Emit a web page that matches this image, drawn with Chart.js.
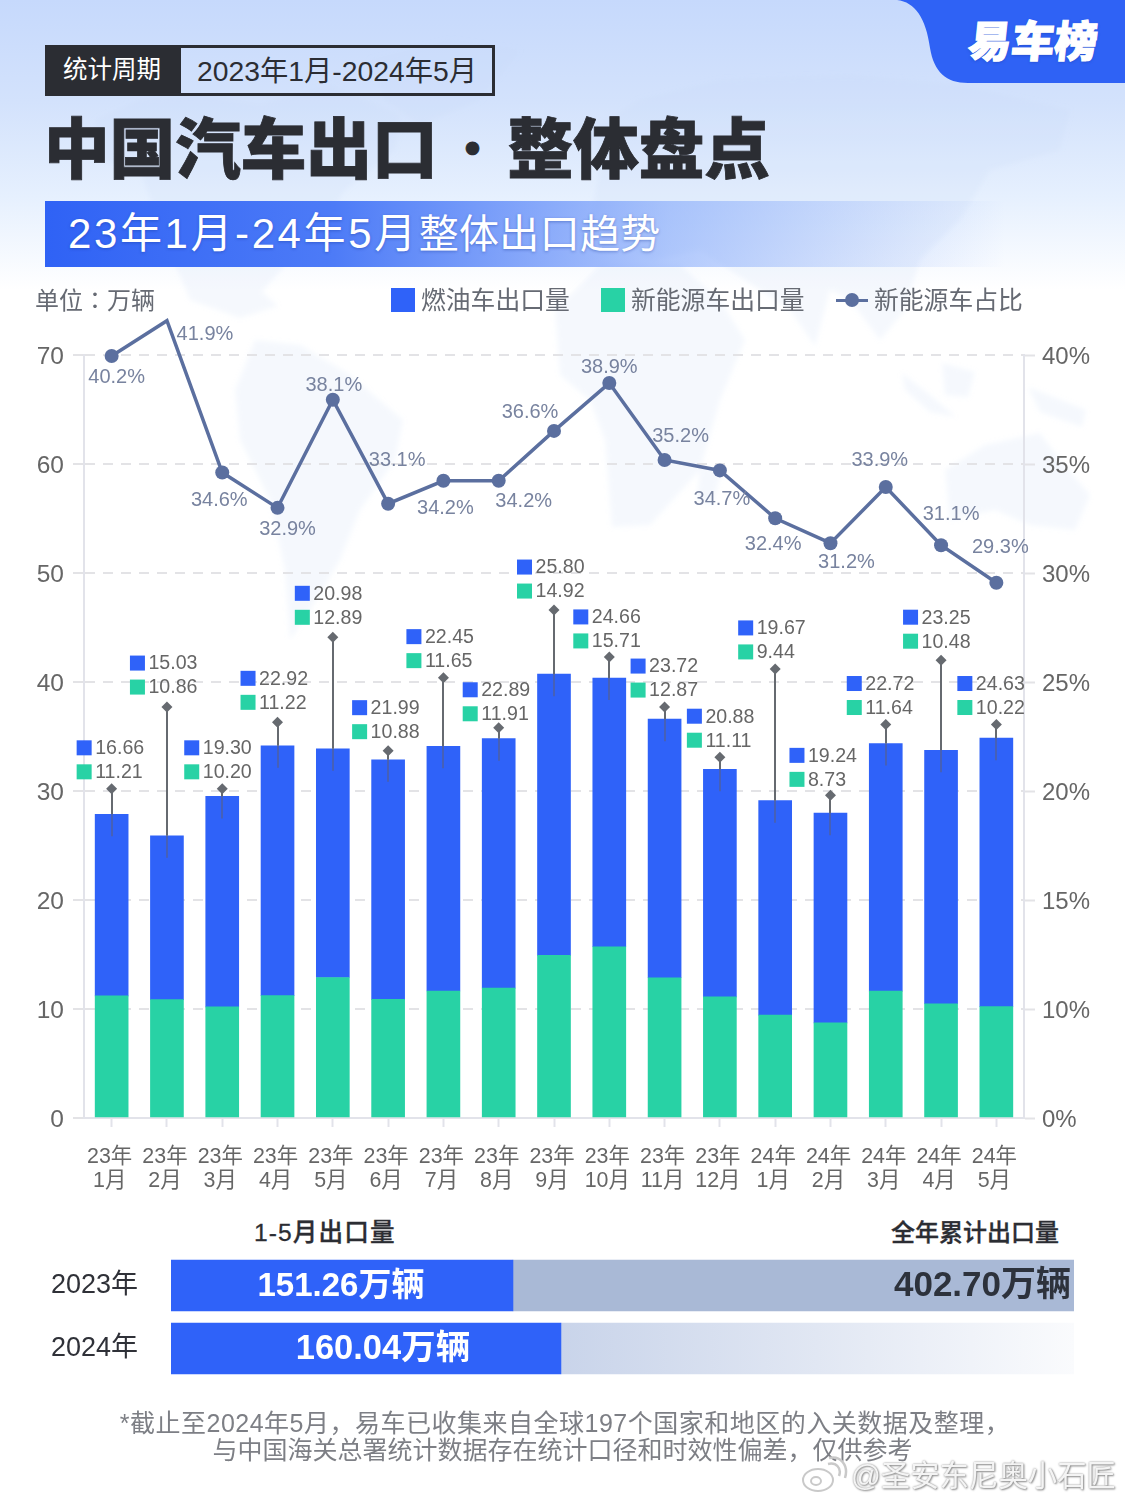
<!DOCTYPE html>
<html lang="zh">
<head>
<meta charset="utf-8">
<script src="https://cdn.jsdelivr.net/npm/chart.js@4/dist/chart.umd.min.js"></script>
<style>
  html, body { margin: 0; padding: 0; }
  body { position: relative; width: 1125px; height: 1500px; overflow: hidden; background: #fff;
    font-family: "Liberation Sans", "Noto Sans CJK SC", sans-serif; }
  .bgfade { position: absolute; left: 0; top: 0; width: 1125px; height: 290px;
    background: linear-gradient(180deg, #c6d9fc 0%, #d3e2fc 35%, #e6f0fe 68%, #ffffff 100%); }
  #map, #tab { position: absolute; left: 0; top: 0; }
  canvas { position: absolute; left: 0; }
  .t { position: absolute; white-space: nowrap; line-height: 1; }
  .swatch { position: absolute; width: 24px; height: 24px; top: 288px; }
</style>
</head>
<body>
<div class="bgfade"></div>
<svg id="map" width="1125" height="640" viewBox="0 0 1125 640">
  <defs><filter id="soft"><feGaussianBlur stdDeviation="2.5"/></filter></defs>
  <g fill="#c4d6f6" fill-opacity="0.17" filter="url(#soft)">
    <path d="M95 120 140 100 200 95 260 105 330 85 400 115 395 150 345 190 320 230 290 260 262 292 278 306 240 318 190 300 165 240 140 170 100 160Z"/>
    <path d="M255 340 300 345 350 375 403 420 395 460 360 510 340 560 310 610 290 640 285 570 270 500 240 440 235 390Z"/>
    <path d="M370 60 450 40 520 50 480 100 420 125 385 100Z"/>
    <path d="M590 130 640 100 720 80 850 75 960 85 1070 110 1060 150 990 170 960 220 920 260 905 310 880 340 850 300 830 290 815 346 790 310 760 290 700 250 650 260 590 220 600 170Z"/>
    <path d="M600 265 680 265 720 300 745 340 720 400 700 470 650 525 612 527 605 440 590 400 560 375 555 310Z"/>
    <path d="M700 467 722 470 712 505 697 500Z"/>
    <path d="M942 363 975 372 968 397 945 395Z"/>
    <path d="M902 373 930 395 956 417 930 412 905 390Z"/>
    <path d="M1028 387 1086 410 1082 427 1040 412Z"/>
    <path d="M945 470 985 445 1040 433 1060 460 1090 495 1075 530 1030 525 995 510 950 520Z"/>
  </g>
</svg>
<svg id="tab" width="1125" height="90" viewBox="0 0 1125 90">
  <path d="M897 0C915 2 926 18 930 48 934 72 946 83 968 83L1125 83 1125 0Z" fill="#2f62f5"/>
</svg>
<div class="t" style="left:969px;top:13px;font:900 43px 'Noto Sans CJK SC';line-height:1.2;color:#fff;transform:skewX(-6deg);-webkit-text-stroke:1.2px #fff;text-shadow:0 1px 3px rgba(20,50,150,.5)">易车榜</div>

<div style="position:absolute;left:45px;top:45px;width:444px;height:45px;border:3px solid #2b2d33"></div>
<div style="position:absolute;left:45px;top:45px;width:136px;height:51px;background:#2b2d33"></div>
<div class="t" style="left:63px;top:58px;font-size:24.5px;color:#fff">统计周期</div>
<div class="t" style="left:197px;top:57px;font-size:28.3px;color:#2b2d33">2023年1月-2024年5月</div>

<div class="t" style="left:44px;top:112px;font:900 65.6px 'Noto Sans CJK SC';line-height:1;color:#2b2d33;-webkit-text-stroke:.8px #2b2d33">中国汽车出口<span style="display:inline-block;width:70px;text-align:center;font-size:46px;vertical-align:8px">·</span>整体盘点</div>

<div style="position:absolute;left:45px;top:201px;width:960px;height:66px;background:linear-gradient(90deg,#2f62f5 0%,#4d7bf7 30%,rgba(120,160,250,.55) 65%,rgba(190,210,250,0) 100%)"></div>
<div class="t" style="left:68px;top:213px;font-size:40px;color:#fff;letter-spacing:.3px;text-shadow:0 1px 3px rgba(20,50,150,.4)"><span style="font-size:42px;letter-spacing:2.6px">23年1月-24年5月</span>整体出口趋势</div>

<canvas id="main" width="1125" height="1210" style="top:0"></canvas>

<div class="t" lang="zh-Hant" style="left:35px;top:287px;font:24px 'Noto Sans CJK TC';line-height:1;color:#666a73">单位：万辆</div>
<div class="swatch" style="left:391px;background:#2f62f9"></div>
<div class="t" style="left:421px;top:289px;font-size:24.8px;color:#666a73">燃油车出口量</div>
<div class="swatch" style="left:601px;background:#28d2a5"></div>
<div class="t" style="left:631px;top:289px;font-size:24.8px;color:#666a73">新能源车出口量</div>
<div style="position:absolute;left:836px;top:299px;width:32px;height:3px;background:#5b6f9f"></div>
<div style="position:absolute;left:845px;top:293px;width:14px;height:14px;border-radius:50%;background:#5b6f9f"></div>
<div class="t" style="left:874px;top:289px;font-size:24.8px;color:#666a73">新能源车占比</div>

<div class="t" style="left:254px;top:1221px;font-size:24.6px;font-weight:500;letter-spacing:1.1px;color:#2b2d33;-webkit-text-stroke:.3px #2b2d33">1-5月出口量</div>
<div class="t" style="left:891px;top:1221px;font-size:24px;font-weight:500;color:#2b2d33;-webkit-text-stroke:.3px #2b2d33">全年累计出口量</div>

<canvas id="ytd" width="1125" height="226" style="top:1204px"></canvas>

<div class="t" style="left:0;width:1130px;text-align:center;top:1411px;font-size:25px;letter-spacing:.5px;color:#7d7f85">*截止至2024年5月，易车已收集来自全球197个国家和地区的入关数据及整理，</div>
<div class="t" style="left:0;width:1125px;text-align:center;top:1438px;font-size:25px;color:#7d7f85">与中国海关总署统计数据存在统计口径和时效性偏差，仅供参考</div>

<svg style="position:absolute;left:800px;top:1455px" width="50" height="40" viewBox="0 0 50 40">
  <ellipse cx="18" cy="25" rx="15" ry="11" fill="#fff" fill-opacity=".7" stroke="#c9c9c9" stroke-width="2"/>
  <ellipse cx="16" cy="26" rx="5" ry="4" fill="none" stroke="#c9c9c9" stroke-width="2"/>
  <path d="M28 9C36 7 42 13 39 21M29 3C40 0 49 10 45 23" fill="none" stroke="#c9c9c9" stroke-width="2.5"/>
</svg>
<div class="t" style="left:851px;top:1461px;font-size:29.4px;color:#f4f4f4;text-shadow:0 0 2px #8f8f8f,1px 1px 2px #8f8f8f">@圣安东尼奥小石匠</div>

<script>
const months = [
  ['23年','1月'],['23年','2月'],['23年','3月'],['23年','4月'],['23年','5月'],['23年','6月'],
  ['23年','7月'],['23年','8月'],['23年','9月'],['23年','10月'],['23年','11月'],['23年','12月'],
  ['24年','1月'],['24年','2月'],['24年','3月'],['24年','4月'],['24年','5月']
];
const fuelExports = [16.66,15.03,19.30,22.92,20.98,21.99,22.45,22.89,25.80,24.66,23.72,20.88,19.67,19.24,22.72,23.25,24.63];
const nevExports = [11.21,10.86,10.20,11.22,12.89,10.88,11.65,11.91,14.92,15.71,12.87,11.11,9.44,8.73,11.64,10.48,10.22];
const nevShare = [40.2,41.9,34.6,32.9,38.1,33.1,34.2,34.2,36.6,38.9,35.2,34.7,32.4,31.2,33.9,31.1,29.3];
// top of each leader line
const leaderTops = [30.2,37.7,30.2,36.3,44.1,33.7,40.4,35.8,46.6,42.3,37.7,33.1,41.2,29.6,36.1,42.0,36.1];
const leftTicks = ['0','10','20','30','40','50','60','70'];
const rightTicks = ['0%','10%','15%','20%','25%','30%','35%','40%'];

const ytdYears = ['2023年','2024年'];
// bar lengths as drawn, on a 0-402.70 track (the picture draws 2024 longer than its label)
const ytdLengths = [152.5,173.9];
const ytdRest = [250.2,228.8];
const ytdTexts = ['151.26万辆','160.04万辆'];
const fullYearText = '402.70万辆';

// share label shift from its point, in px
const shareLabelShift = [[5,20],[38,12],[-3,26],[10,20],[1,-16],[9,-45],[2,26],[25,19],[-24,-20],[0,-17],[16,-25],[2,28],[-2,25],[16,18],[-6,-28],[10,-32],[4,-37]];
// value rows: left edge from the bar centre, lift of the first row above the leader top, in px
const rowLeft = [-35,-37,-38,-37,-38,-36,-37,-36,-37,-36,-34,-33,-37,-41,-39,-38,-39];
const rowLift = [41,44,41,44,44,43,41,38,43,40,41,41,41,40,41,43,41];

const FONT = '"Liberation Sans","Noto Sans CJK SC",sans-serif';
const BLUE = '#2f62f9', GREEN = '#28d2a5', SLATE = '#5b6f9f';
const GRID = '#e3e3e6', AXIS = '#e2e3ea', TEXT = '#666666';

// leader lines with the two value rows above them
const leaderPlugin = {
  id: 'leaders',
  afterDatasetsDraw(chart) {
    const { ctx, scales: { x, y } } = chart;
    ctx.save();
    leaderTops.forEach((top, i) => {
      const cx = x.getPixelForValue(i);
      const px = Math.round(cx);
      const topY = y.getPixelForValue(top);
      const barY = y.getPixelForValue(fuelExports[i] + nevExports[i]);
      ctx.lineWidth = 2;
      ctx.strokeStyle = '#666a70';
      ctx.beginPath(); ctx.moveTo(px, topY); ctx.lineTo(px, barY); ctx.stroke();
      ctx.strokeStyle = 'rgba(90,95,130,.55)';
      ctx.beginPath(); ctx.moveTo(px, barY); ctx.lineTo(px, barY + 22); ctx.stroke();

      const left = cx + rowLeft[i];
      const row1 = topY - rowLift[i];
      const row2 = row1 + 24;
      ctx.font = '19.6px ' + FONT;
      ctx.textBaseline = 'middle';
      ctx.textAlign = 'left';
      ctx.fillStyle = BLUE; ctx.fillRect(left, row1 - 7.5, 15, 15);
      ctx.fillStyle = GREEN; ctx.fillRect(left, row2 - 7.5, 15, 15);
      ctx.fillStyle = TEXT;
      ctx.fillText(fuelExports[i].toFixed(2), left + 18.5, row1 + 1);
      ctx.fillText(nevExports[i].toFixed(2), left + 18.5, row2 + 1);
    });
    ctx.restore();
  }
};

const shareLabelPlugin = {
  id: 'shareLabels',
  afterDatasetsDraw(chart) {
    const { ctx, scales: { x, share } } = chart;
    ctx.save();
    ctx.font = '20px ' + FONT;
    ctx.fillStyle = '#78839f';
    ctx.textAlign = 'center';
    ctx.textBaseline = 'middle';
    nevShare.forEach((v, i) => {
      const [dx, dy] = shareLabelShift[i];
      ctx.fillText(v.toFixed(1) + '%', x.getPixelForValue(i) + dx, share.getPixelForValue(v) + dy + 1.5);
    });
    ctx.restore();
  }
};

new Chart(document.getElementById('main'), {
  type: 'bar',
  data: {
    labels: months,
    datasets: [
      { label: '新能源车占比', type: 'line', data: nevShare, yAxisID: 'share', clip: false, order: 0,
        borderColor: SLATE, borderWidth: 3.5, tension: 0,
        pointRadius: 7, pointBackgroundColor: SLATE, pointBorderWidth: 0 },
      { label: 'leader', type: 'line', data: leaderTops, yAxisID: 'y2', showLine: false, order: 1,
        pointStyle: 'rectRot', pointRadius: 5.5, pointBackgroundColor: '#666a70', pointBorderWidth: 0 },
      { label: '新能源车出口量', data: nevExports, backgroundColor: GREEN, barThickness: 33, stack: 's', order: 2 },
      { label: '燃油车出口量', data: fuelExports, backgroundColor: BLUE, barThickness: 33, stack: 's', order: 2 }
    ]
  },
  plugins: [leaderPlugin, shareLabelPlugin],
  options: {
    responsive: false,
    animation: false,
    layout: { padding: { top: 355 } },
    plugins: { legend: { display: false }, tooltip: { enabled: false } },
    scales: {
      x: {
        stacked: true,
        afterFit: s => { s.height = 92; },
        border: { color: AXIS, width: 2 },
        grid: { drawOnChartArea: false, offset: false, tickLength: 9, tickColor: AXIS, tickWidth: 2 },
        ticks: { color: TEXT, padding: 18, labelOffset: -2, maxRotation: 0, autoSkip: false,
          font: { family: FONT, size: 21.4, lineHeight: 1.13 } }
      },
      y: {
        stacked: true, position: 'left', min: 0, max: 70,
        afterFit: s => { s.width = 84; },
        border: { color: AXIS, width: 2, dash: [10, 8] },
        grid: { color: GRID, lineWidth: 2, tickLength: 11, tickColor: GRID, tickWidth: 2,
          tickBorderDash: [10, 8] },
        ticks: { stepSize: 10, color: TEXT, padding: 9, labelOffset: 2, font: { family: FONT, size: 24.5 },
          callback: (v, i) => leftTicks[i] }
      },
      y2: {
        position: 'right', min: 0, max: 70,
        afterFit: s => { s.width = 101; },
        border: { color: AXIS, width: 2 },
        grid: { drawOnChartArea: false, tickLength: 11, tickColor: GRID, tickWidth: 2, tickBorderDash: [10, 8] },
        ticks: { stepSize: 10, color: TEXT, padding: 7, labelOffset: 2, font: { family: FONT, size: 24 },
          callback: (v, i) => rightTicks[i] }
      },
      // the printed right-hand ticks are not even, so the line gets its own hidden scale
      share: { display: false, min: 3.56, max: 40.25 }
    }
  }
});

const ytdLabelPlugin = {
  id: 'ytdLabels',
  afterDatasetsDraw(chart) {
    const { ctx, scales: { x, y } } = chart;
    ctx.save();
    ctx.textBaseline = 'middle';
    ctx.textAlign = 'center';
    ctx.fillStyle = '#ffffff';
    ctx.font = 'bold 33px ' + FONT;
    ctx.fillText(ytdTexts[0], x.getPixelForValue(ytdLengths[0] / 2) - 1, y.getPixelForValue(0) + 1);
    ctx.font = 'bold 34.5px ' + FONT;
    ctx.fillText(ytdTexts[1], x.getPixelForValue(ytdLengths[1] / 2) + 17, y.getPixelForValue(1) + 1);
    ctx.textAlign = 'right';
    ctx.fillStyle = '#2d323c';
    ctx.font = 'bold 35px ' + FONT;
    ctx.fillText(fullYearText, x.right - 3, y.getPixelForValue(0) + 1);
    ctx.restore();
  }
};

new Chart(document.getElementById('ytd'), {
  type: 'bar',
  data: {
    labels: ytdYears,
    datasets: [
      { data: ytdLengths, backgroundColor: BLUE, barThickness: 51 },
      { data: ytdRest, barThickness: 51,
        backgroundColor: c => {
          if (c.dataIndex === 0) return '#a9b9d6';
          const x = c.chart.scales.x;
          const g = c.chart.ctx.createLinearGradient(x.getPixelForValue(ytdLengths[1]), 0, x.right, 0);
          g.addColorStop(0, '#c9d4ea');
          g.addColorStop(0.5, '#e1e7f3');
          g.addColorStop(1, '#fafbfd');
          return g;
        } }
    ]
  },
  plugins: [ytdLabelPlugin],
  options: {
    indexAxis: 'y',
    responsive: false,
    animation: false,
    // tick padding also reserves room above and below the axis, hence the tall canvas
    layout: { padding: { top: 50, bottom: 50, right: 51 } },
    plugins: { legend: { display: false }, tooltip: { enabled: false } },
    scales: {
      x: { display: false, stacked: true, min: 0, max: 402.7 },
      y: {
        stacked: true,
        afterFit: s => { s.width = 171; },
        border: { display: false },
        grid: { display: false, drawTicks: false },
        ticks: { color: '#2f3138', padding: 33, font: { family: FONT, size: 27 } }
      }
    }
  }
});
</script>
</body>
</html>
